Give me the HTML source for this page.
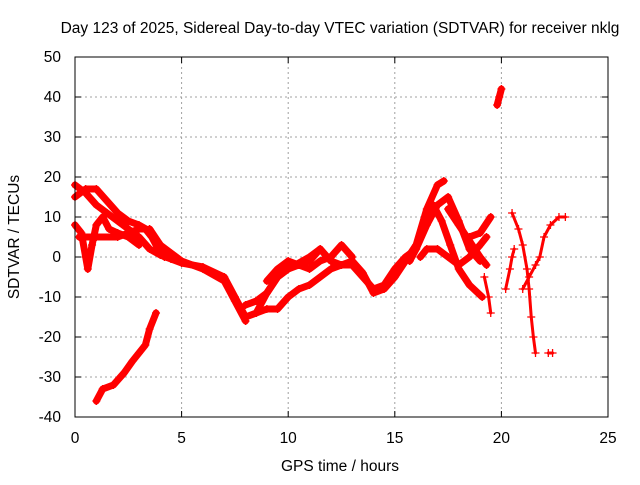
<!DOCTYPE html>
<html><head><meta charset="utf-8"><style>
body{margin:0;background:#fff}
svg text{font-family:"Liberation Sans",sans-serif;font-size:15.5px;fill:#000}
</style></head><body>
<svg width="640" height="480" id="c">
<text x="340" y="33" text-anchor="middle">Day 123 of 2025, Sidereal Day-to-day VTEC variation (SDTVAR) for receiver nklg</text>
<text x="340" y="471" text-anchor="middle">GPS time / hours</text>
<text transform="translate(19,237) rotate(-90)" text-anchor="middle">SDTVAR / TECUs</text>
<g id="grid"></g><g id="marks"></g>
<rect x="75" y="57" width="533" height="360" fill="none" stroke="#000" stroke-width="1"/>
</svg>
<script>
const xTicks=[0,5,10,15,20,25];
const yTicks=[-40,-30,-20,-10,0,10,20,30,40,50];
const trackA=[[0,18],[0.5,16],[1,13],[1.5,11],[2,9],[2.5,7],[3,5],[3.5,2],[4,0.5],[4.5,-0.5],[5,-1.5],[6,-2.5],[7,-5],[7.5,-10],[8,-15],[8.5,-14],[9,-9],[9.5,-5],[10,-3],[11,0],[11.5,2]];
const trackB=[[0,15],[0.5,17],[1,17],[1.5,14],[2,11],[2.5,9],[3,8],[3.5,6.5],[4,3],[4.5,1],[5,-1],[6,-3],[7,-6],[7.5,-11],[8,-16]];
const trackC=[[0,8],[0.3,6],[0.5,0],[0.6,-3],[0.8,3],[1,8],[1.3,10],[1.6,7],[2,6],[2.5,5],[3,3]];
const trackD=[[0.2,5],[1,5],[2,5],[2.5,6],[3,7],[3.3,7],[3.6,5],[4,1],[4.2,0]];
const trackE=[[3.5,7],[4,3],[4.3,0]];
const trackF=[[1,-36],[1.3,-33],[1.8,-32],[2.3,-29],[2.7,-26],[3,-24],[3.3,-22],[3.5,-18],[3.8,-14]];
const trackG=[[8,-12],[8.5,-11],[9,-9],[9.5,-5],[10,-3],[10.5,-2],[11,-1],[11.5,2],[12,-1],[12.5,-2],[13,-2],[13.5,-5],[14,-8],[14.5,-7],[15,-3],[15.5,0],[16,2],[16.5,8],[17,13],[17.5,15],[18,9],[18.5,2],[19,-1]];
const trackH=[[8.5,-14],[9,-13],[9.5,-13],[10,-10],[10.5,-8],[11,-7],[11.5,-5],[12,-3],[12.5,-2],[13,-1],[13.5,-4],[14,-9],[14.5,-8],[15,-5],[15.5,-1],[16,3],[16.5,12],[17,18],[17.3,19]];
const trackI=[[9,-6],[9.5,-3],[10,-1],[10.5,-2],[11,-3],[11.5,-1],[12,0],[12.5,3],[13,0]];
const trackJ=[[15.7,-1],[16,2],[16.5,9],[16.8,13],[17.2,9],[17.6,3],[18,-3],[18.5,-7],[19.1,-10]];
const trackK=[[16.2,0],[16.5,2],[17,2],[17.5,0],[18,-2],[18.5,0],[19,3],[19.3,5]];
const trackL=[[17.5,12],[18,8],[18.5,4],[19,0],[19.3,-2]];
const trackM=[[18.5,5],[19,6],[19.5,10]];
const trackN=[[19.8,38],[19.9,40],[20,42]];
const trackO=[[20.5,11],[20.8,7],[21,3],[21.2,-3],[21.3,-8],[21.4,-15],[21.5,-20],[21.6,-24]];
const trackP=[[21,-8],[21.3,-5],[21.6,-2],[21.8,0],[22,5],[22.3,8],[22.7,10],[23,10]];
const trackQ=[[20.2,-8],[20.4,-3],[20.5,0],[20.6,2]];
const trackR=[[19.2,-5],[19.4,-10],[19.5,-14]];
const trackS=[[22.2,-24],[22.4,-24]];
const tracks=[trackA,trackB,trackC,trackD,trackE,trackF,trackG,trackH,trackI,trackJ,trackK,trackL,trackM,trackN,trackO,trackP,trackQ,trackR,trackS];
const sparse=[false,false,false,false,false,false,false,false,false,false,false,false,false,false,true,true,true,true,true];
const X0=75,X1=608,Y0=417,Y1=57;
const sx=h=>X0+(h-0)/(25-0)*(X1-X0);
const sy=v=>Y0-(v+40)/(90)*(Y0-Y1);
const NS='http://www.w3.org/2000/svg';
const grid=document.getElementById('grid'),marks=document.getElementById('marks');
function mk(t,a,p){const e=document.createElementNS(NS,t);for(const k in a)e.setAttribute(k,a[k]);p.appendChild(e);return e;}
xTicks.forEach(t=>{const x=sx(t);
 if(t>0&&t<25){const l=mk('line',{x1:x,x2:x,y1:Y1,y2:Y0,stroke:'#a0a0a0','stroke-dasharray':'2,3'},grid);
 
 }
 mk('line',{x1:x,x2:x,y1:Y0,y2:Y0-6,stroke:'#000'},grid);
 mk('line',{x1:x,x2:x,y1:Y1,y2:Y1+6,stroke:'#000'},grid);
 const tx=mk('text',{x:x,y:443,'text-anchor':'middle'},grid);tx.textContent=t;
 
 });
yTicks.forEach(t=>{const y=sy(t);
 if(t>-40&&t<50){const l=mk('line',{x1:X0,x2:X1,y1:y,y2:y,stroke:'#a0a0a0','stroke-dasharray':'2,3'},grid);
 
 }
 mk('line',{x1:X0,x2:X0+6,y1:y,y2:y,stroke:'#000'},grid);
 mk('line',{x1:X1,x2:X1-6,y1:y,y2:y,stroke:'#000'},grid);
 const tx=mk('text',{x:61,y:y+5,'text-anchor':'end'},grid);tx.textContent=t;
 
 });
tracks.forEach((tr,i)=>{
 const g=mk('g',{},marks);
 
 
 mk('polyline',{points:tr.map(p=>sx(p[0])+','+sy(p[1])).join(' '),fill:'none',stroke:'#f00','stroke-width':sparse[i]?3:7,'stroke-linejoin':'round','stroke-linecap':'round'},g);
 tr.forEach(p=>{const x=sx(p[0]),y=sy(p[1]);
  const m=mk('path',{d:`M${x-4},${y}H${x+4}M${x},${y-4}V${y+4}`,stroke:'#f00','stroke-width':1.3},g);
  
  });
});
</script>
</body></html>
